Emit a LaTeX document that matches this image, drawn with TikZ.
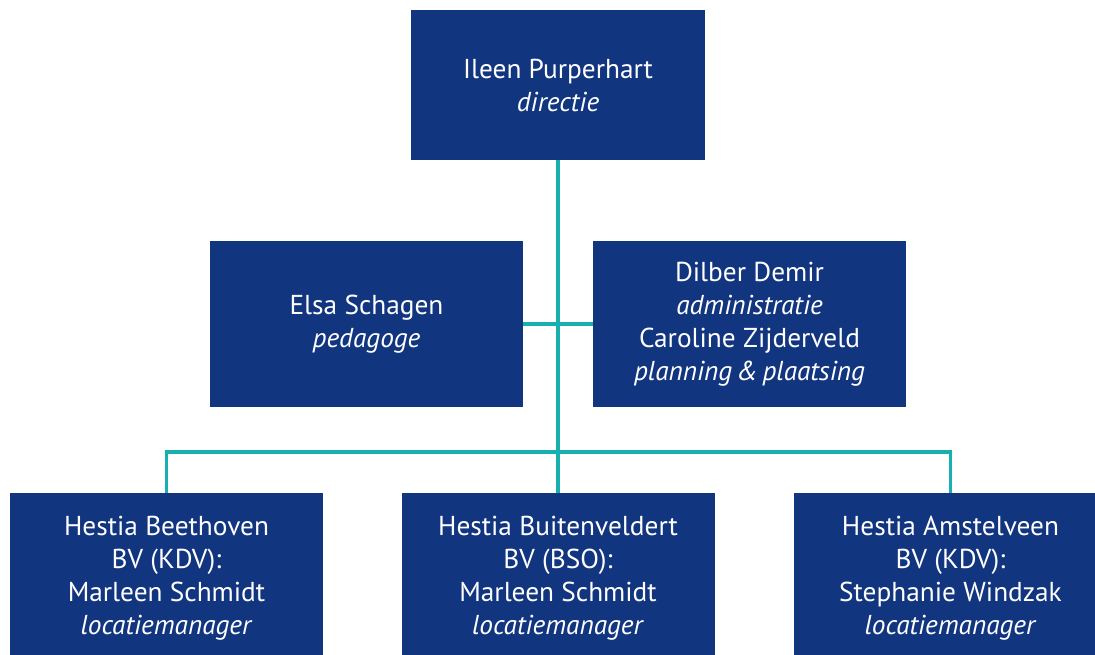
\documentclass[tikz,border=0pt]{standalone}
\usepackage{fontspec}
\setmainfont{PT Sans}
\usetikzlibrary{positioning}
\definecolor{hnavy}{RGB}{18,53,127}
\definecolor{hteal}{RGB}{23,175,175}

\begin{document}
\begin{tikzpicture}[x=0.75pt,y=-0.75pt,
    box/.style={fill=hnavy,text=white,align=center,inner sep=0pt,
      font=\fontsize{20.5}{24.75}\selectfont},
    link/.style={draw=hteal,line width=2.4pt}]
        \useasboundingbox (0,0) rectangle (1095,655);
        \node[box,minimum width=220.5pt,minimum height=112.5pt] at (558,85) (top)
          {Ileen Purperhart\\\textit{directie}};
        \node[box,minimum width=234.75pt,minimum height=124.5pt] at (366.5,324) (elsa)
          {Elsa Schagen\\\textit{pedagoge}};
        \node[box,minimum width=234.75pt,minimum height=124.5pt] at (749.5,324) (dilber)
          {Dilber Demir\\\textit{administratie}\\Caroline Zijderveld\\\textit{planning\,\&\,plaatsing}};
        \node[box,minimum width=234.75pt,minimum height=127.5pt] at (166.5,578) (beet)
          {Hestia Beethoven\\BV (KDV):\\Marleen Schmidt\\\textit{locatiemanager}};
        \node[box,minimum width=234.75pt,minimum height=127.5pt] at (558,578) (buiten)
          {Hestia Buitenveldert\\BV (BSO):\\Marleen Schmidt\\\textit{locatiemanager}};
        \node[box,minimum width=234.75pt,minimum height=127.5pt] at (950.5,578) (amstel)
          {Hestia Amstelveen\\BV (KDV):\\Stephanie Windzak\\\textit{locatiemanager}};
        \coordinate (bus) at (558,452);

        \draw[link] (top) -- (buiten);
        \draw[link] (elsa) -- (dilber);
        \draw[link] (beet) |- (bus) -| (amstel);
      \end{tikzpicture}
\end{document}
